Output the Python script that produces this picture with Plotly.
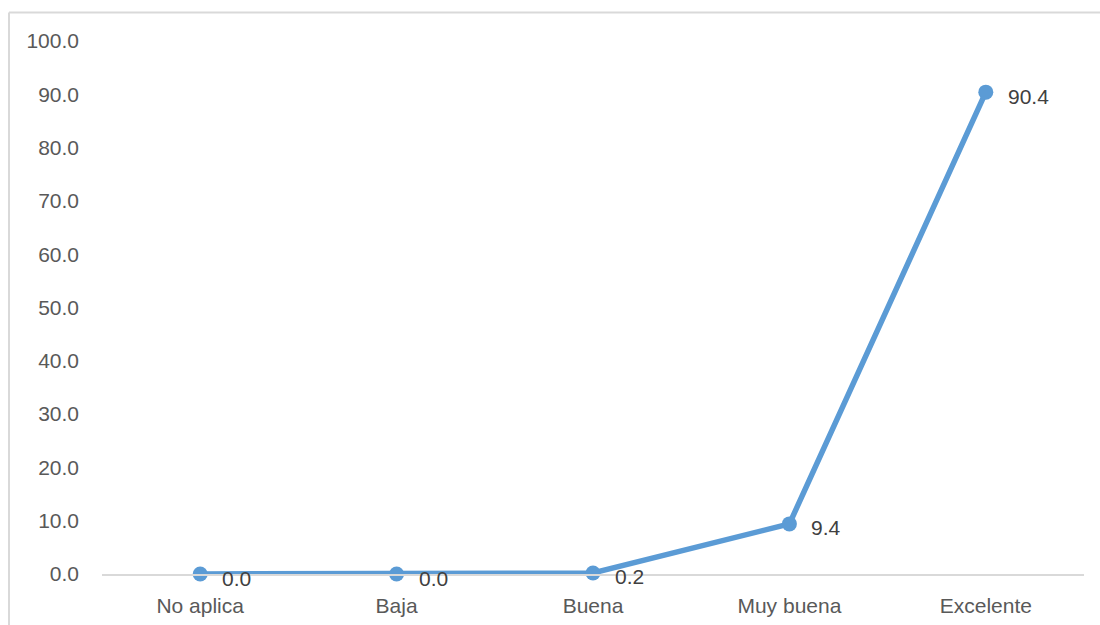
import plotly.graph_objects as go

categories = ["No aplica", "Baja", "Buena", "Muy buena", "Excelente"]
values = [0.0, 0.0, 0.2, 9.4, 90.4]
y_ticks = [0, 10, 20, 30, 40, 50, 60, 70, 80, 90, 100]

LINE_COLOR = "#5B9BD5"
FONT = "Liberation Sans, Arial, sans-serif"

fig = go.Figure()
fig.add_trace(go.Scatter(
    x=list(range(len(categories))),
    y=values,
    mode="lines+markers",
    line=dict(color=LINE_COLOR, width=5.5),
    marker=dict(color=LINE_COLOR, size=15),
    hoverinfo="skip",
    showlegend=False,
    cliponaxis=False,
))

# value labels to the right of each point
for i, v in enumerate(values):
    fig.add_annotation(
        x=i, y=v, text=f"{v:.1f}", showarrow=False,
        xanchor="left", yanchor="middle", xshift=20, yshift=-4,
        font=dict(family=FONT, size=21, color="#404040"),
    )

# chart frame (left and top edges)
fig.add_shape(type="line", xref="paper", yref="paper",
              x0=-0.0947, x1=1.1, y0=1.0535, y1=1.0535,
              line=dict(color="#D9D9D9", width=2))
fig.add_shape(type="line", xref="paper", yref="paper",
              x0=-0.0947, x1=-0.0947, y0=-0.2, y1=1.0535,
              line=dict(color="#D9D9D9", width=2))

fig.update_layout(
    width=1100, height=625,
    margin=dict(l=102, r=16, t=41, b=51),
    paper_bgcolor="white", plot_bgcolor="white",
    font=dict(family=FONT, size=21, color="#595959"),
    xaxis=dict(
        tickmode="array", tickvals=list(range(len(categories))),
        ticktext=categories, range=[-0.5, 4.5],
        showgrid=False, zeroline=False, automargin=False,
        showline=True, linecolor="#D9D9D9", linewidth=1.5,
        ticks="", ticklabelstandoff=12,
        tickfont=dict(family=FONT, size=21, color="#595959"),
    ),
    yaxis=dict(
        tickmode="array", tickvals=y_ticks,
        ticktext=[f"{t:.1f}" for t in y_ticks],
        range=[0, 100], showgrid=False, zeroline=False, showline=False,
        automargin=False, ticks="", ticklabelstandoff=22,
        tickfont=dict(family=FONT, size=21, color="#595959"),
    ),
)

fig.write_html("out.html")
